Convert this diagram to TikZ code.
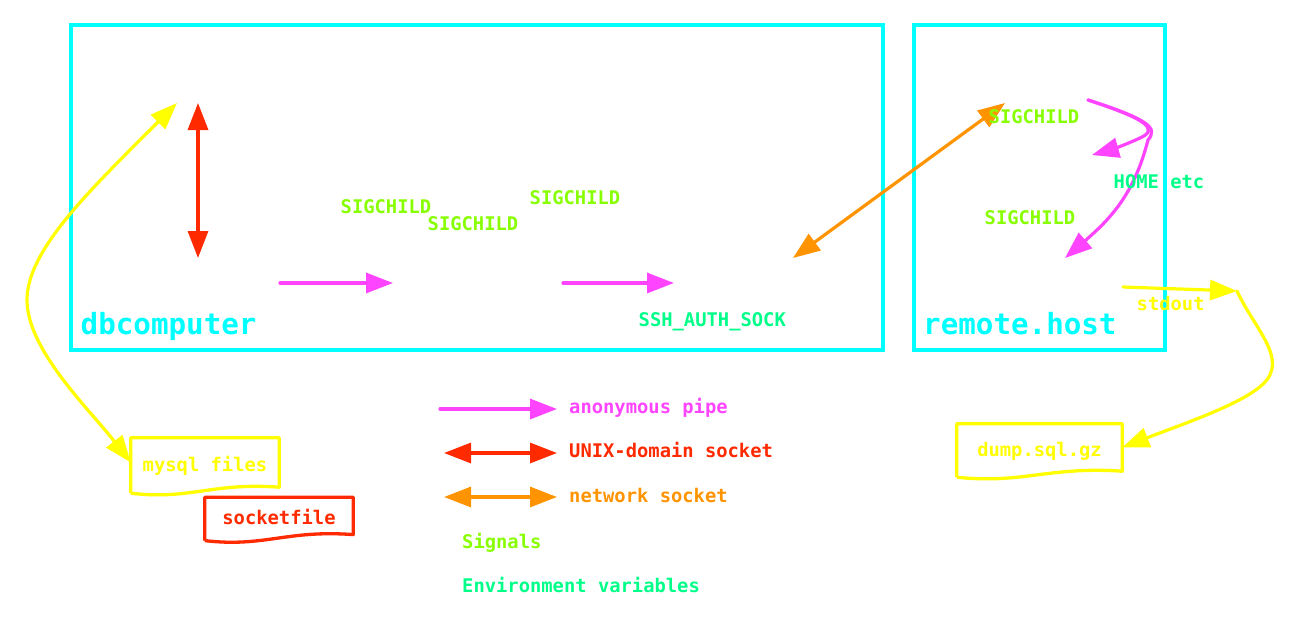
\documentclass[tikz,border=0pt]{standalone}
\usepackage{fontspec}
\setmonofont{DejaVu Sans Mono}
\usetikzlibrary{arrows.meta,positioning,calc}
\definecolor{cHost}{HTML}{00FFFF}
\definecolor{cFile}{HTML}{FFFF00}
\definecolor{cPipe}{HTML}{FF44FF}
\definecolor{cUnix}{HTML}{FF2A00}
\definecolor{cNet}{HTML}{FF9400}
\definecolor{cSig}{HTML}{88FF00}
\definecolor{cEnv}{HTML}{00FF88}
\tikzset{
  lbl/.style={font=\ttfamily\bfseries\fontsize{18.8}{20}\selectfont, inner sep=0pt, anchor=base west},
  hostname/.style={font=\ttfamily\bfseries\fontsize{29.2}{30}\selectfont, inner sep=0pt, anchor=base west, text=cHost},
  host/.style={draw=cHost, line width=3.3pt, minimum width=#1, minimum height=325pt, inner sep=0pt},
  doc/.style={font=\ttfamily\bfseries\fontsize{18.8}{20}\selectfont, text=#1, inner sep=0pt, text height=19pt, text depth=2pt},
  pipe/.style={->, line width=3.2pt, line cap=round, draw=cPipe},
  usock/.style={<->, line width=3.2pt, draw=cUnix},
  nsock/.style={<->, line width=3.2pt, draw=cNet},
  fflow/.style={->, line width=3.2pt, line cap=round, draw=cFile},
}
\begin{document}
\begin{tikzpicture}[x=1pt, y=-1pt, >={Triangle[length=27pt,width=20pt]}]
\useasboundingbox (0,0) rectangle (1297,629);
\node[host=812pt] (dbc) at (477,187.5) {};
\node[host=251pt] (remote) at (1039.5,187.5) {};
\node[hostname] (dbcname) at (80.5,334) {dbcomputer};
\node[hostname] (remotename) at (923,334) {remote.host};
\node[doc=cFile, minimum width=148pt, minimum height=49pt] (mysql) at (205,462.5) {mysql files};
\node[doc=cUnix, minimum width=148pt, minimum height=37pt, below=10pt of mysql, xshift=74pt] (sockf) {socketfile};
\node[doc=cFile, minimum width=165pt, minimum height=47pt] (dump) at (1039.5,447.5) {dump.sql.gz};
\foreach \n/\c in {mysql/cFile,sockf/cUnix,dump/cFile}{
  \draw[draw=\c, line width=3.3pt, line join=round] ([yshift=-6pt]\n.south west) -- (\n.north west) -- (\n.north east) -- (\n.south east)
    .. controls ($(\n.south west)!0.55!(\n.south east)+(0,-5)$) and ($(\n.south west)!0.4!(\n.south east)+(0,13)$) .. ([yshift=-6pt]\n.south west);
}
\coordinate (mysqldfile) at (177,103);
\coordinate (mysqldsock) at (198,103);
\coordinate (dumpsock) at (198,258);
\coordinate (dumpout) at (280,283);
\coordinate (gzipin) at (393,283);
\coordinate (gzipout) at (563,283);
\coordinate (sshin) at (674,283);
\coordinate (sshnet) at (793,258);
\coordinate (sshdnet) at (1005,103);
\coordinate (sshdenv) at (1088,100);
\coordinate (bashin) at (1092,155);
\coordinate (rdumpin) at (1065,258);
\coordinate (rdumpout) at (1123,287);
\coordinate (stdoutpt) at (1237,291);
\draw[fflow, <->] (mysqldfile) .. controls (90,190) and (27,250) .. (27,300) .. controls (27,350) and (90,410) .. (mysql.west);
\draw[usock] (mysqldsock) -- (dumpsock);
\draw[pipe] (dumpout) -- (gzipin);
\draw[pipe] (gzipout) -- (sshin);
\draw[nsock] (sshnet) -- (sshdnet);
\draw[pipe] (sshdenv) .. controls (1150,120) and (1158,130) .. (1140,138) .. controls (1125,145) and (1110,150) .. (bashin);
\draw[pipe] (sshdenv) .. controls (1150,120) and (1158,128) .. (1148,140) .. controls (1135,190) and (1115,215) .. (rdumpin);
\draw[fflow] (rdumpout) -- (stdoutpt);
\draw[fflow] (stdoutpt) .. controls (1255,330) and (1290,360) .. (1262,385) .. controls (1240,405) and (1180,425) .. (dump.east);
\node[lbl, text=cSig] (sig1) at (340.5,213) {SIGCHILD};
\node[lbl, text=cSig] (sig2) at (427.5,230) {SIGCHILD};
\node[lbl, text=cSig] (sig3) at (529.5,204) {SIGCHILD};
\node[lbl, text=cEnv] (sshenv) at (638.5,326) {SSH\_AUTH\_SOCK};
\node[lbl, text=cSig] (sig4) at (988.5,123) {SIGCHILD};
\node[lbl, text=cSig] (sig5) at (984.5,224) {SIGCHILD};
\node[lbl, text=cEnv] (homeenv) at (1113.5,188) {HOME etc};
\node[lbl, text=cFile] (stdoutlbl) at (1136.5,310) {stdout};
\node[lbl, text=cPipe] (lgpipe) at (569,413) {anonymous pipe};
\node[lbl, text=cUnix] (lgunix) at ([yshift=-44pt]lgpipe.base west) {UNIX-domain socket};
\node[lbl, text=cNet] (lgnet) at ([yshift=-45pt]lgunix.base west) {network socket};
\node[lbl, text=cSig] (lgsig) at ([xshift=-107pt,yshift=-46pt]lgnet.base west) {Signals};
\node[lbl, text=cEnv] (lgenv) at ([yshift=-44pt]lgsig.base west) {Environment variables};
\draw[pipe] ([xshift=-129pt,yshift=4pt]lgpipe.base west) -- ([xshift=-12pt,yshift=4pt]lgpipe.base west);
\draw[usock] ([xshift=-125pt,yshift=4pt]lgunix.base west) -- ([xshift=-12pt,yshift=4pt]lgunix.base west);
\draw[nsock] ([xshift=-125pt,yshift=5pt]lgnet.base west) -- ([xshift=-12pt,yshift=5pt]lgnet.base west);
\end{tikzpicture}
\end{document}
